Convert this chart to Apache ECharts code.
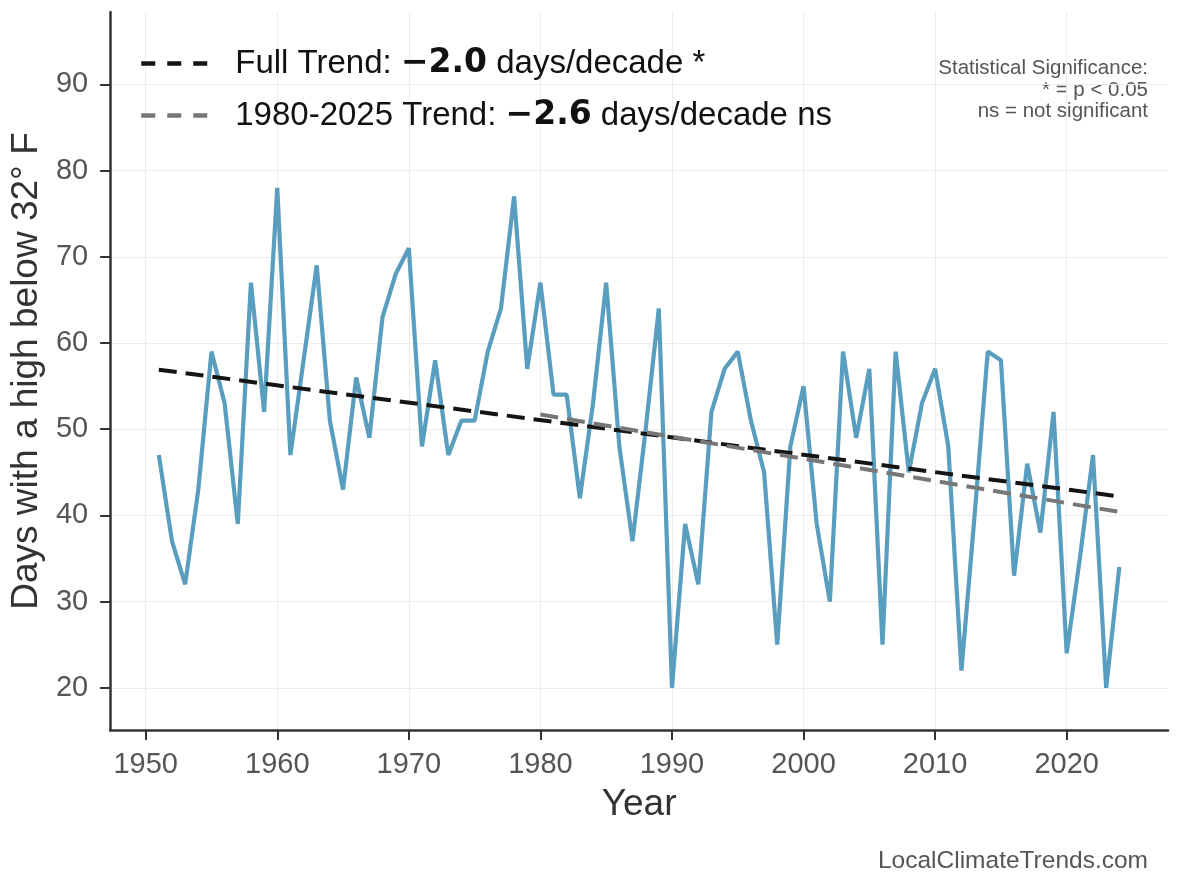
<!DOCTYPE html>
<html>
<head>
<meta charset="utf-8">
<title>Days with a high below 32°F</title>
<script src="https://cdn.jsdelivr.net/npm/echarts@6/dist/echarts.min.js"></script>
<style>
  html, body { margin: 0; padding: 0; background: #fff; }
  #chart { width: 1184px; height: 889px; }
</style>
</head>
<body>
<div id="chart"></div>
<script>
// years and observed days with high below freezing
const years = [];
for (let y = 1951; y <= 2024; y++) years.push(y);

const coldDays = [
  47, 37, 32, 43, 59, 53, 39, 67, 52, 78,   // 1951-1960
  47, 58, 69, 51, 43, 56, 49, 63, 68, 71,   // 1961-1970
  48, 58, 47, 51, 51, 59, 64, 77, 57, 67,   // 1971-1980
  54, 54, 42, 53, 67, 48, 37, 50, 64, 20,   // 1981-1990
  39, 32, 52, 57, 59, 51, 45, 25, 48, 55,   // 1991-2000
  39, 30, 59, 49, 57, 25, 59, 45, 53, 57,   // 2001-2010
  48, 22, 40, 59, 58, 33, 46, 38, 52, 24,   // 2011-2020
  35, 47, 20, 34                            // 2021-2024
];

// trend line end points
const fullTrendYears = [1951, 2024];
const fullTrendValues = [56.9, 42.2];
const recentTrendYears = [1980, 2024];
const recentTrendValues = [51.7, 40.4];

const yTicks = [20, 30, 40, 50, 60, 70, 80, 90];
const xTicks = [1950, 1960, 1970, 1980, 1990, 2000, 2010, 2020];

const fullTrendLabel = ['Full Trend: ', '\u22122.0', ' days/decade *'];
const recentTrendLabel = ['1980-2025 Trend: ', '\u22122.6', ' days/decade ns'];

const chart = echarts.init(document.getElementById('chart'));

const fontMain = '"Liberation Sans", Arial, sans-serif';

chart.setOption({
  animation: false,
  backgroundColor: '#ffffff',
  textStyle: { fontFamily: fontMain },
  grid: { left: 110, top: 12, right: 16, bottom: 159, containLabel: false },
  legend: {
    data: ['Full Trend', '1980-2025 Trend'],
    orient: 'vertical',
    left: 134,
    top: 42,
    itemGap: 19,
    itemWidth: 66,
    itemHeight: 14,
    itemStyle: { opacity: 0 },
    lineStyle: { type: [14, 12], width: 4.5 },
    textStyle: {
      fontSize: 33,
      color: '#111',
      fontFamily: fontMain,
      rich: {
        s: { width: 23, fontSize: 33 },
        n: { fontSize: 33, color: '#111', fontFamily: fontMain },
        b: { fontSize: 33, color: '#111', fontFamily: 'DejaVu Sans', fontWeight: 'bold' }
      }
    },
    formatter: function (name) {
      const p = name === 'Full Trend' ? fullTrendLabel : recentTrendLabel;
      return '{s| }{n|' + p[0] + '}{b|' + p[1] + '}{n|' + p[2] + '}';
    }
  },
  xAxis: {
    type: 'value',
    min: 1947.3,
    max: 2027.7,
    name: 'Year',
    nameLocation: 'middle',
    nameGap: 56,
    nameTextStyle: { fontSize: 37, color: '#333', fontFamily: fontMain },
    axisLine: { show: true, lineStyle: { color: '#333', width: 2.5 } },
    axisTick: { show: true, length: 10, lineStyle: { color: '#333', width: 2 }, customValues: xTicks },
    axisLabel: { fontSize: 29, color: '#555', margin: 20, customValues: xTicks, formatter: v => String(v) },
    splitLine: { show: true, lineStyle: { color: '#ececec', width: 1 } }
  },
  yAxis: {
    type: 'value',
    min: 15.1,
    max: 98.4,
    name: 'Days with a high below 32° F',
    nameLocation: 'middle',
    nameGap: 60,
    nameTextStyle: { fontSize: 37, color: '#333', fontFamily: fontMain },
    axisLine: { show: true, lineStyle: { color: '#333', width: 2.5 } },
    axisTick: { show: true, length: 10, lineStyle: { color: '#333', width: 2 }, customValues: yTicks },
    axisLabel: { fontSize: 29, color: '#555', margin: 22, customValues: yTicks },
    splitLine: { show: true, lineStyle: { color: '#ececec', width: 1 } }
  },
  series: [
    {
      name: 'Observed',
      type: 'line',
      data: years.map((y, i) => [y, coldDays[i]]),
      showSymbol: false,
      lineStyle: { color: '#5099bc', width: 4.2, opacity: 0.95 },
      itemStyle: { color: '#5099bc' },
      z: 2
    },
    {
      name: 'Full Trend',
      type: 'line',
      data: fullTrendYears.map((y, i) => [y, fullTrendValues[i]]),
      showSymbol: false,
      lineStyle: { color: '#141414', width: 4, type: [18, 9] },
      itemStyle: { color: '#141414' },
      z: 3
    },
    {
      name: '1980-2025 Trend',
      type: 'line',
      data: recentTrendYears.map((y, i) => [y, recentTrendValues[i]]),
      showSymbol: false,
      lineStyle: { color: '#777777', width: 4, type: [18, 9] },
      itemStyle: { color: '#777777' },
      z: 4
    }
  ],
  graphic: [
    {
      type: 'text',
      x: 1148,
      y: 58,
      style: {
        text: 'Statistical Significance:\n* = p < 0.05\nns = not significant',
        font: '20.5px ' + fontMain,
        fill: '#555',
        align: 'right',
        textAlign: 'right',
        verticalAlign: 'top',
        lineHeight: 21.5
      }
    },
    {
      type: 'text',
      x: 1148,
      y: 849,
      style: {
        text: 'LocalClimateTrends.com',
        font: '24.5px ' + fontMain,
        fill: '#555',
        align: 'right',
        textAlign: 'right',
        verticalAlign: 'top'
      }
    }
  ]
});
</script>
</body>
</html>
